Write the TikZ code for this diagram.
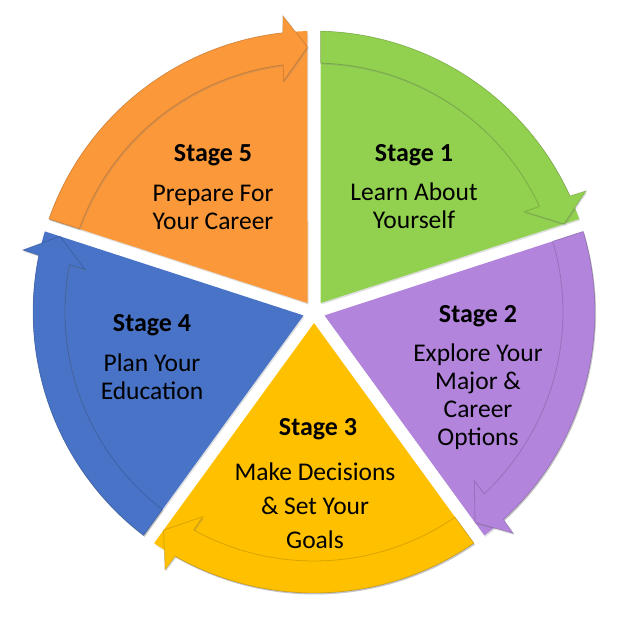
\documentclass[tikz,border=0pt]{standalone}
\usepackage{fontspec}
\setmainfont{Carlito}
\usetikzlibrary{shadows}

\definecolor{stagegreen}{RGB}{146,208,80}
\definecolor{stagepurple}{RGB}{178,132,220}
\definecolor{stageyellow}{RGB}{255,192,0}
\definecolor{stageblue}{RGB}{72,115,198}
\definecolor{stageorange}{RGB}{250,152,58}

\begin{document}
\begin{tikzpicture}
		[
			x=1pt, y=1pt,
			% Bold title of a stage.
			stagetitle/.style={font=\bfseries\fontsize{26}{30}\selectfont},
			% And the words under it.
			stagetext/.style={align=center, font=\fontsize{25.5}{28}\selectfont},
			% Soft shadow under segments and arrows.
			softshadow/.style={drop shadow={shadow xshift=1pt, shadow yshift=-1.5pt, opacity=0.25}},
			% One segment with its arrow, from angle #1 clockwise end to #1+72.
			pics/segment/.style 2 args={code={
				\fill[#2, softshadow] ({#1+36}:11.06) -- ({#1+1.33}:281)
					arc[start angle={#1+1.33}, end angle={#1+70.67}, radius=281] -- cycle;
				\filldraw[fill=#2, draw=black, draw opacity=0.15, line width=0.8pt, softshadow]
					({#1+70.67}:281) arc[start angle={#1+70.67}, end angle={#1+6.4}, radius=281]
					-- ({#1+6}:298) -- ({#1+1.4}:265) -- ({#1+7.5}:233) -- ({#1+7.1}:249)
					arc[start angle={#1+7.1}, end angle={#1+70.5}, radius=249] -- cycle;
			}}
		]
			\useasboundingbox (0,0) rectangle (636,616);
			\coordinate (center) at (314,304);

			% The five segments, clockwise from the top.
			\pic at (center) {segment={18}{stagegreen}};
			\pic at (center) {segment={-54}{stagepurple}};
			\pic at (center) {segment={-126}{stageyellow}};
			\pic at (center) {segment={-198}{stageblue}};
			\pic at (center) {segment={90}{stageorange}};

			% Labels.
			\node[stagetitle] (title1) at (414,461) {Stage 1};
			\node[stagetext] (text1) at (414,410) {Learn About\\Yourself};
			\node[stagetitle] (title2) at (478,300) {Stage 2};
			\node[stagetext] (text2) at (478,219) {Explore Your\\Major \&\\Career\\Options};
			\node[stagetitle] (title3) at (318,187) {Stage 3};
			\node[stagetext, font=\fontsize{25.5}{34}\selectfont] (text3) at (315,110) {Make Decisions\\\& Set Your\\Goals};
			\node[stagetitle] (title4) at (152,291) {Stage 4};
			\node[stagetext] (text4) at (152,239) {Plan Your\\Education};
			\node[stagetitle] (title5) at (213,461) {Stage 5};
			\node[stagetext] (text5) at (213,408.5) {Prepare For\\Your Career};
		\end{tikzpicture}
\end{document}
